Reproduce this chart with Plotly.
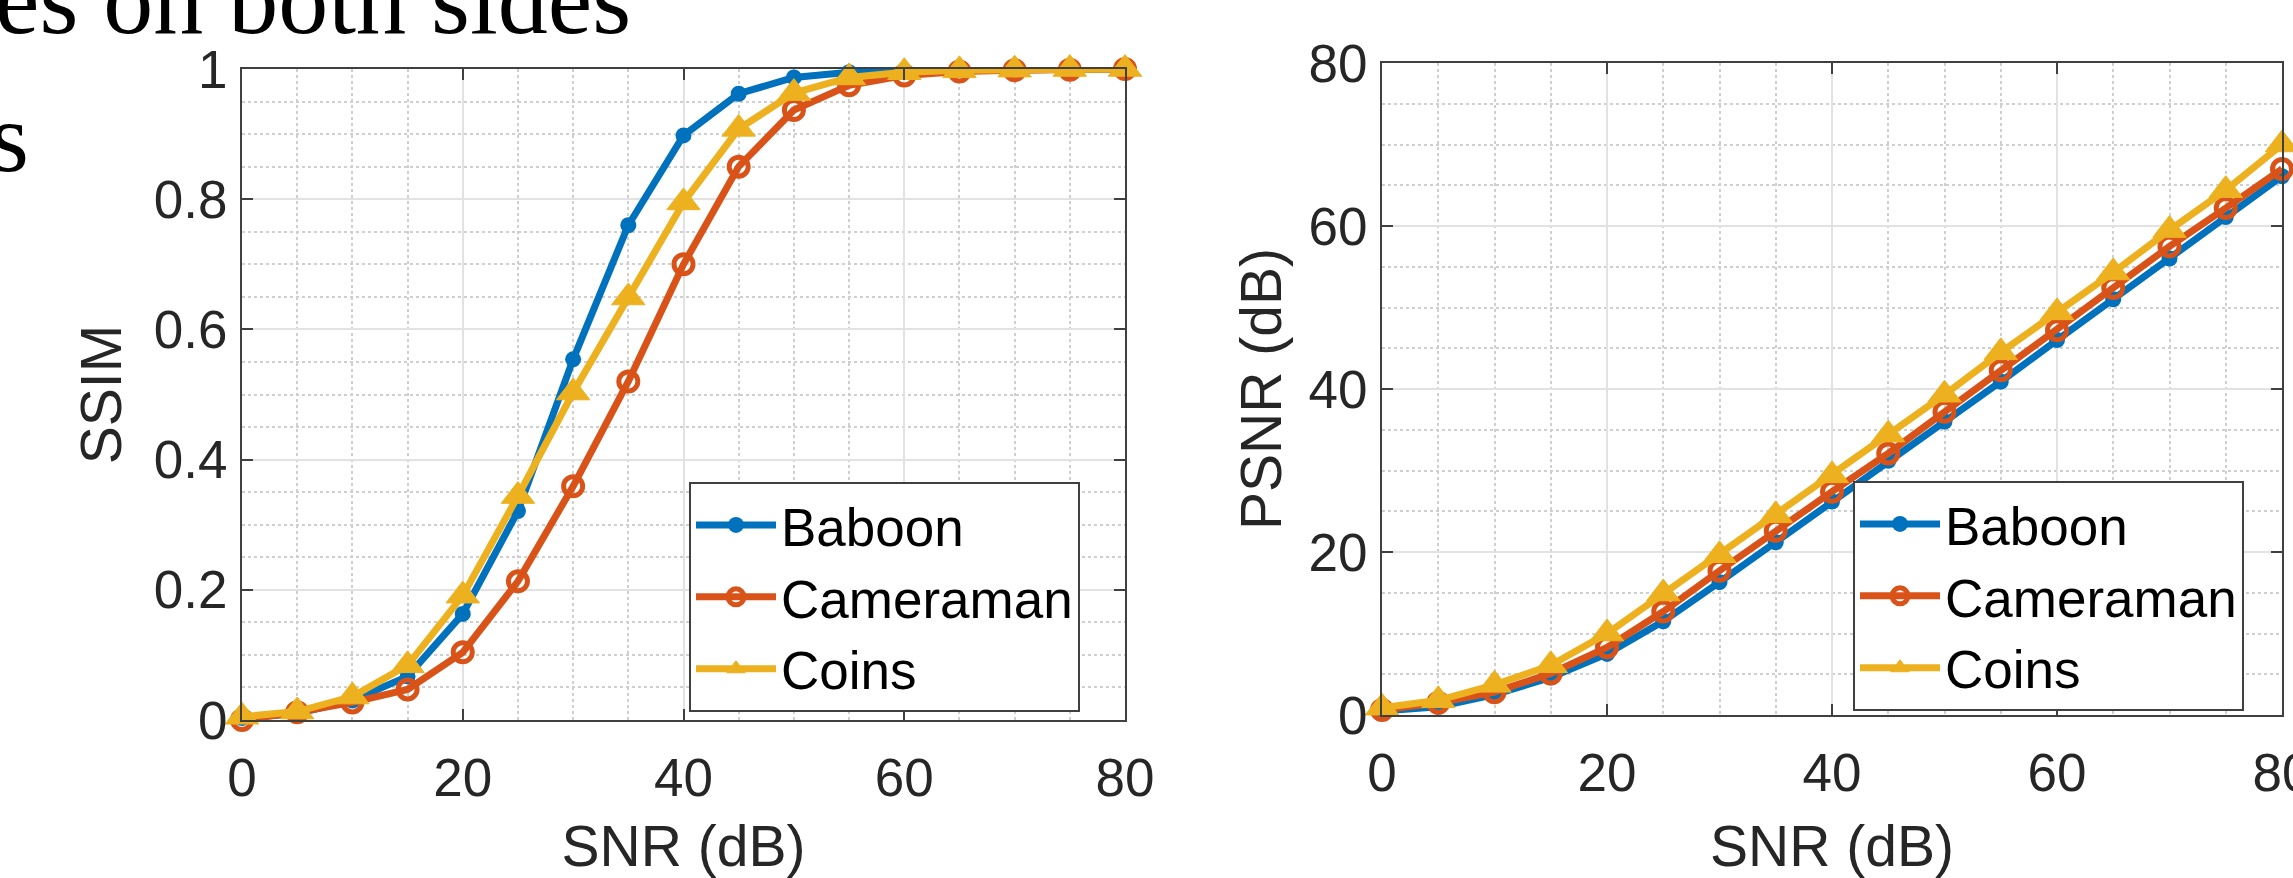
import plotly.graph_objects as go

# ---- data ----
snr = [0, 5, 10, 15, 20, 25, 30, 35, 40, 45, 50, 55, 60, 65, 70, 75, 80]

ssim_baboon = [0.003, 0.010, 0.030, 0.067, 0.163, 0.321, 0.554, 0.760, 0.898, 0.962,
               0.987, 0.995, 0.998, 0.999, 1.0, 1.0, 1.0]
ssim_cameraman = [0.000, 0.012, 0.027, 0.047, 0.104, 0.213, 0.359, 0.520, 0.700, 0.850,
                  0.937, 0.975, 0.990, 0.996, 0.998, 0.999, 1.0]
ssim_coins = [0.005, 0.013, 0.036, 0.084, 0.191, 0.344, 0.503, 0.649, 0.795, 0.908,
              0.963, 0.987, 0.995, 0.998, 0.999, 1.0, 1.0]

psnr_baboon = [0.5, 1.0, 2.5, 4.6, 7.5, 11.5, 16.3, 21.2, 26.2, 31.2, 36.0, 40.9,
               46.0, 51.0, 56.0, 61.1, 66.1]
psnr_cameraman = [0.6, 1.5, 2.8, 5.1, 8.3, 12.7, 17.7, 22.6, 27.4, 32.1, 37.2, 42.3,
                  47.2, 52.4, 57.5, 62.2, 67.0]
psnr_coins = [0.9, 1.8, 3.7, 6.1, 10.0, 14.9, 19.6, 24.5, 29.4, 34.4, 39.3, 44.5,
              49.4, 54.3, 59.5, 64.4, 70.0]

series_names = ["Baboon", "Cameraman", "Coins"]
x_title = "SNR (dB)"
y_titles = ["SSIM", "PSNR (dB)"]
side_text = ["es on both sides", "s"]

# ---- styles ----
W, H = 2293, 878
BLUE, RED, YEL = "#0072BD", "#D95319", "#EDB120"
FONT = "Liberation Sans, Arial, Helvetica, sans-serif"
TICK_SIZE = 53
LABEL_SIZE = 57
LEG_SIZE = 53
LW = 7

styles = [
    dict(color=BLUE, marker=dict(symbol="circle", size=16, color=BLUE, line=dict(width=0))),
    dict(color=RED, marker=dict(symbol="circle-open", size=19, color=RED, line=dict(width=5, color=RED))),
    dict(color=YEL, marker=dict(symbol="triangle-up", size=29, color=YEL, line=dict(width=1, color=YEL))),
]

fig = go.Figure()

ssim_sets = [ssim_baboon, ssim_cameraman, ssim_coins]
psnr_sets = [psnr_baboon, psnr_cameraman, psnr_coins]

for name, ys, st in zip(series_names, ssim_sets, styles):
    fig.add_trace(go.Scatter(x=snr, y=ys, name=name, mode="lines+markers",
                             line=dict(color=st["color"], width=LW), marker=st["marker"],
                             xaxis="x", yaxis="y", legend="legend", cliponaxis=False))
for name, ys, st in zip(series_names, psnr_sets, styles):
    fig.add_trace(go.Scatter(x=snr, y=ys, name=name, mode="lines+markers",
                             line=dict(color=st["color"], width=LW), marker=st["marker"],
                             xaxis="x2", yaxis="y2", legend="legend2", cliponaxis=False))

def px_x(p):
    return p / W

def px_y(p):
    return (H - p) / H

axis_common = dict(
    showline=True, linecolor="#404040", linewidth=2, mirror="ticks",
    ticks="inside", ticklen=11, tickwidth=2, tickcolor="#404040",
    showgrid=True, gridcolor="#e2e2e2", gridwidth=2,
    zeroline=False, automargin=False, ticklabeloverflow="allow",
    tickfont=dict(family=FONT, size=TICK_SIZE, color="#262626"),
    title_font=dict(family=FONT, size=LABEL_SIZE, color="#262626"),
)

minor = dict(showgrid=True, gridcolor="#cfcfcf", griddash="dot", gridwidth=1.5, ticks="")

leg_common = dict(xanchor="left", yanchor="top",
                  bgcolor="white", bordercolor="#404040", borderwidth=2,
                  font=dict(family=FONT, size=LEG_SIZE, color="black"),
                  itemwidth=80, tracegroupgap=0)

fig.update_layout(
    width=W, height=H,
    margin=dict(l=0, r=0, t=0, b=0, autoexpand=False),
    paper_bgcolor="white", plot_bgcolor="white",
    xaxis=dict(domain=[px_x(242), px_x(1125)], range=[0, 80], tick0=0, dtick=20,
               anchor="y", minor=dict(dtick=5, **minor), ticklabelstandoff=10,
               title=dict(text=x_title, standoff=34), **axis_common),
    yaxis=dict(domain=[px_y(720), px_y(69)], range=[0, 1], tick0=0, dtick=0.2,
               anchor="x", minor=dict(dtick=0.05, **minor), ticklabelstandoff=2,
               title=dict(text=y_titles[0], standoff=14), **axis_common),
    xaxis2=dict(domain=[px_x(1382), px_x(2282)], range=[0, 80], tick0=0, dtick=20,
                anchor="y2", minor=dict(dtick=5, **minor), ticklabelstandoff=10,
                title=dict(text=x_title, standoff=34), **axis_common),
    yaxis2=dict(domain=[px_y(715), px_y(63)], range=[0, 80], tick0=0, dtick=20,
                anchor="x2", minor=dict(dtick=5, **minor), ticklabelstandoff=2,
                title=dict(text=y_titles[1], standoff=8), **axis_common),
    legend=dict(x=px_x(689), y=px_y(482), **leg_common),
    legend2=dict(x=px_x(1853), y=px_y(481), **leg_common),
    showlegend=True,
)

SERIF = "Liberation Serif, Times New Roman, serif"
fig.add_annotation(text=side_text[0], xref="paper", yref="paper",
                   x=px_x(633), y=px_y(-1), xanchor="right", yanchor="middle",
                   showarrow=False, font=dict(family=SERIF, size=100, color="black"))
fig.add_annotation(text=side_text[1], xref="paper", yref="paper",
                   x=px_x(31), y=px_y(138), xanchor="right", yanchor="middle",
                   showarrow=False, font=dict(family=SERIF, size=100, color="black"))

fig.write_html("out.html", config={"displayModeBar": False},
               post_script="document.body.style.margin='0';document.body.style.overflow='hidden';")
